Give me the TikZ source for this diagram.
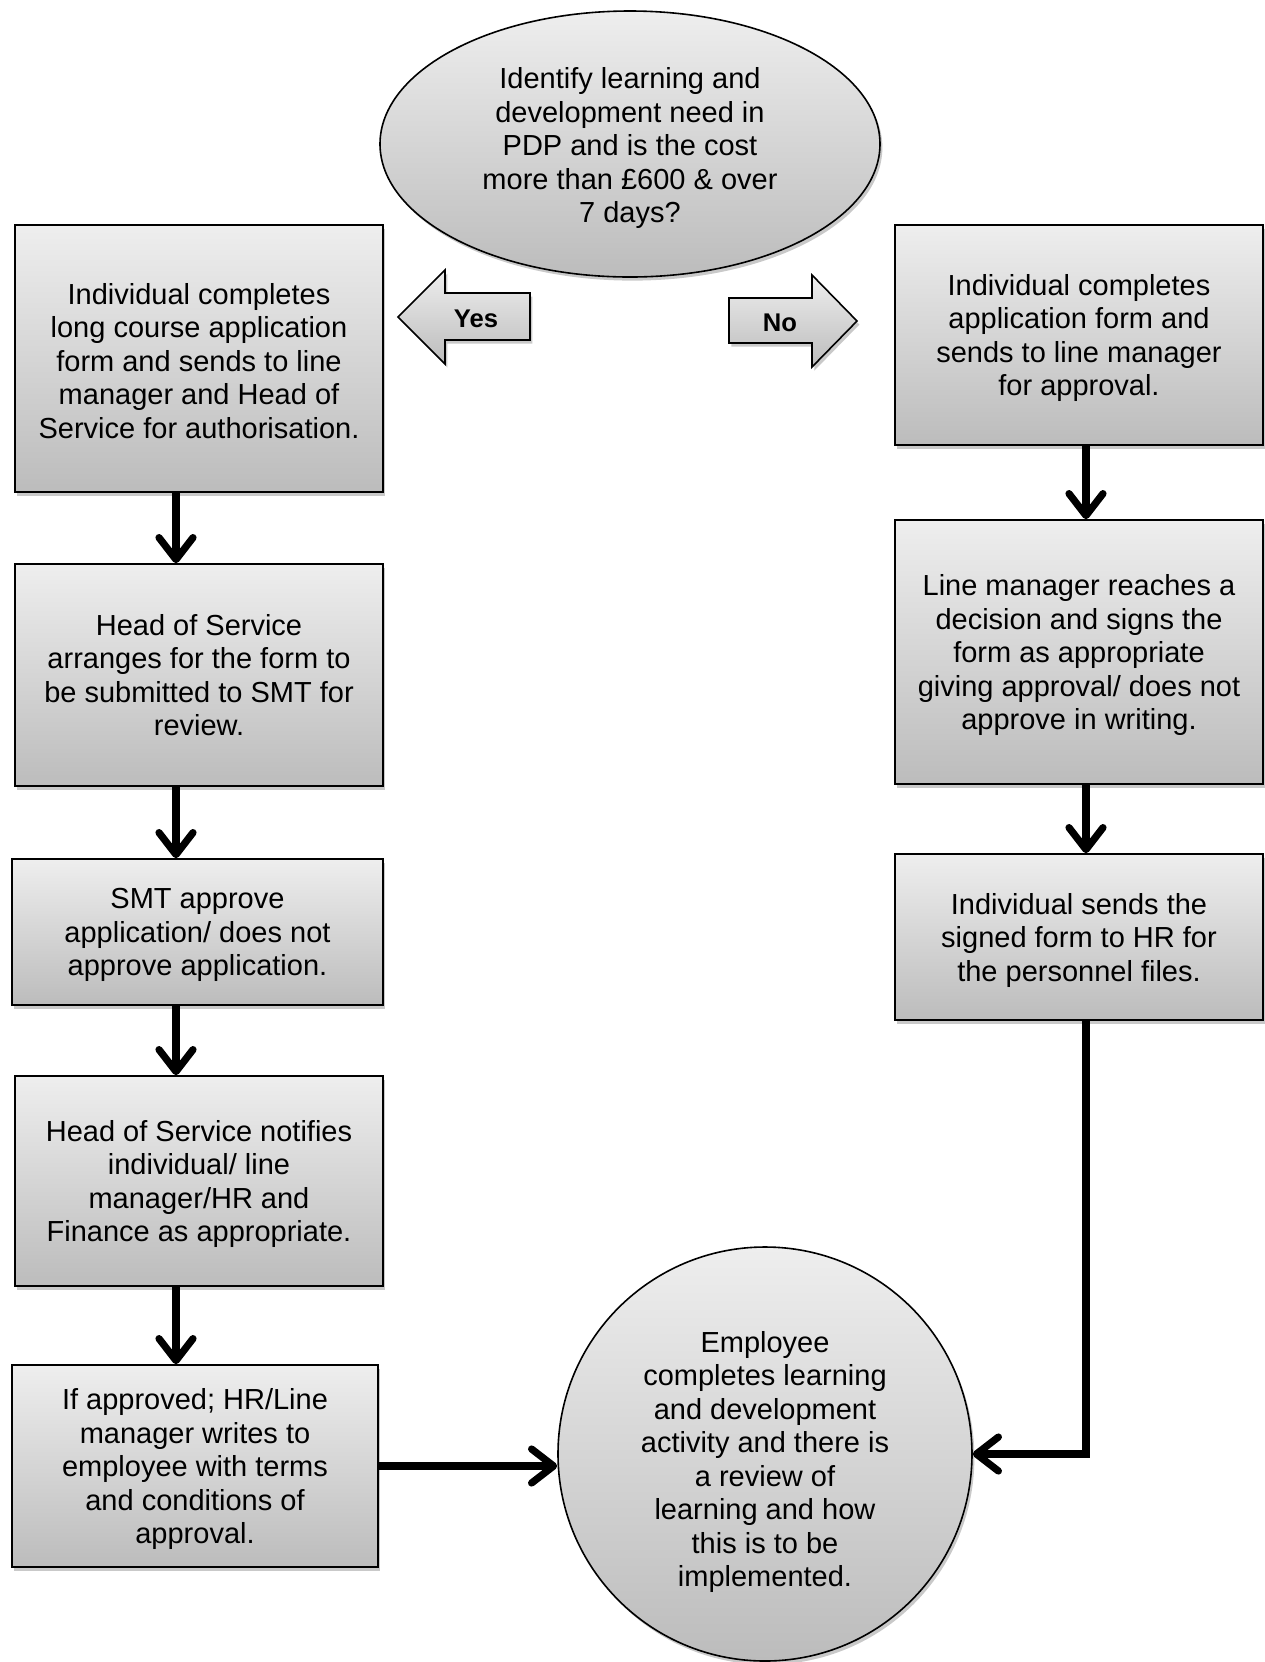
\documentclass[tikz,border=0pt]{standalone}
\usepackage{fontspec}
\setmainfont{Liberation Sans}
\usetikzlibrary{shapes.geometric,arrows.meta,shadows,calc}
\definecolor{gtop}{RGB}{238,238,238}
\definecolor{gbot}{RGB}{188,188,188}
\begin{document}
\begin{tikzpicture}[x=0.5pt,y=-0.5pt,
  shad/.style={top color=gtop,bottom color=gbot,draw=black,line width=0.8pt,
     drop shadow={shadow xshift=1.2pt,shadow yshift=-1.8pt,opacity=0.3,fill=black!70}},
  txt/.style={align=center,inner sep=0pt,text depth=0pt,font=\fontsize{14.5pt}{16.75pt}\selectfont},
  box/.style={shad,txt,rectangle,minimum width=184pt},
  oval/.style={shad,txt,ellipse,minimum width=250pt,minimum height=133pt},
  round/.style={shad,txt,circle,minimum size=207pt},
  lbl/.style={inner sep=0pt,font=\fontsize{12.8pt}{15pt}\selectfont\bfseries},
  conn/.style={line width=3.6pt,-{Straight Barb[length=11pt,width=17pt,round]}}
]
\useasboundingbox (0,0) rectangle (1265,1662);

\node[oval] (top) at (630,144) {\rule{0pt}{11.6pt}Identify learning and\\development need in\\PDP and is the cost\\more than £600 \& over\\7 days?};

\node[box,minimum height=133.5pt] (lb1) at (199,358.5) {\rule{0pt}{12.6pt}Individual completes\\long course application\\form and sends to line\\manager and Head of\\Service for authorisation.};
\node[box,minimum height=111pt,text depth=-0.5pt] (lb2) at (199,675) {Head of Service\\arranges for the form to\\be submitted to SMT for\\review.};
\node[box,minimum height=73pt,minimum width=185.5pt] (lb3) at (197.5,932) {SMT approve\\application/ does not\\approve application.};
\node[box,minimum height=105pt] (lb4) at (199,1181) {Head of Service notifies\\individual/ line\\manager/HR and\\Finance as appropriate.};
\node[box,minimum height=101pt,minimum width=183pt] (lb5) at (195,1466) {If approved; HR/Line\\manager writes to\\employee with terms\\and conditions of\\approval.};

\node[box,minimum height=110pt] (rb1) at (1079,335) {Individual completes\\application form and\\sends to line manager\\for approval.};
\node[box,minimum height=132pt] (rb2) at (1079,652) {Line manager reaches a\\decision and signs the\\form as appropriate\\giving approval/ does not\\approve in writing.};
\node[box,minimum height=83pt] (rb3) at (1079,937) {Individual sends the\\signed form to HR for\\the personnel files.};

\node[round] (circ) at (765,1454) {\rule{0pt}{15.4pt}Employee\\completes learning\\and development\\activity and there is\\a review of\\learning and how\\this is to be\\implemented.};

% Yes / No block arrows
\draw[shad] (398,317) -- (445,270) -- (445,293) -- (530,293) -- (530,340) -- (445,340) -- (445,364) -- cycle;
\node[lbl] (yes) at (476,319) {Yes};
\draw[shad] (857,321) -- (812,275) -- (812,298) -- (729,298) -- (729,343) -- (812,343) -- (812,367) -- cycle;
\node[lbl] (no) at (780,323) {No};

\coordinate (colL) at (176,0);
\coordinate (colR) at (1086,0);

\draw[conn] (lb1.south -| colL) -- (lb2.north -| colL);
\draw[conn] (lb2.south -| colL) -- (lb3.north -| colL);
\draw[conn] (lb3.south -| colL) -- (lb4.north -| colL);
\draw[conn] (lb4.south -| colL) -- (lb5.north -| colL);

\draw[conn] (rb1.south -| colR) -- (rb2.north -| colR);
\draw[conn] (rb2.south -| colR) -- (rb3.north -| colR);
\draw[conn] (rb3.south -| colR) |- (circ.east);

\draw[conn] (lb5.east) -- (lb5.east -| circ.west);
\end{tikzpicture}
\end{document}
